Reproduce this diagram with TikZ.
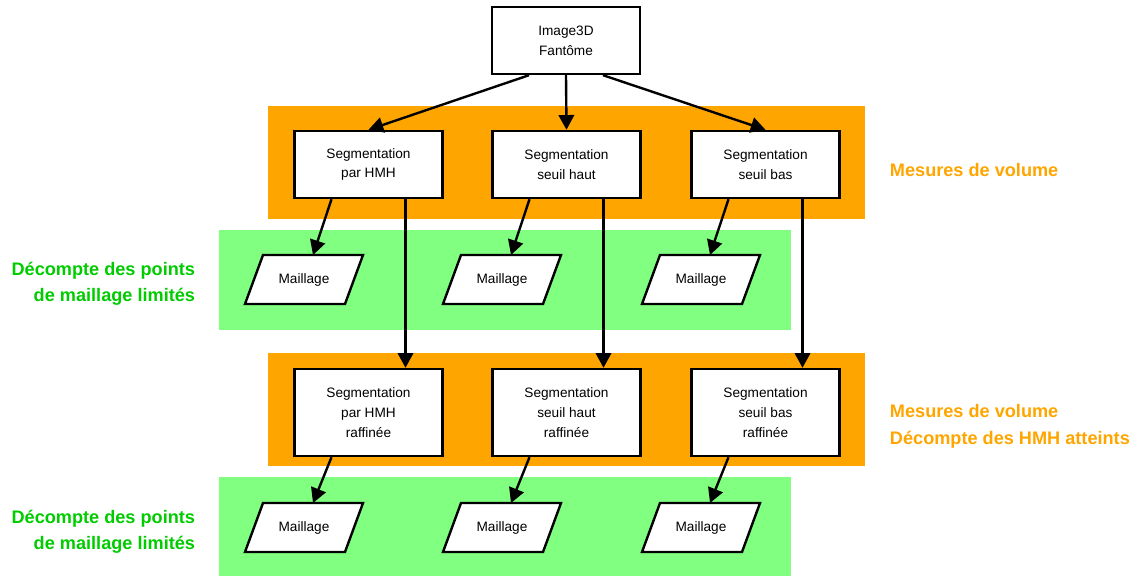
\documentclass[tikz,border=0pt]{standalone}
\usepackage{fontspec}
\setmainfont{Liberation Sans}
\usetikzlibrary{calc, arrows.meta}
\definecolor{bandorange}{HTML}{FFA500}
\definecolor{bandgreen}{HTML}{80FF80}
\definecolor{labelgreen}{HTML}{00CC00}
\tikzset{
	segbox/.style={draw, line width=1.7pt, fill=white, minimum width=3.7cm,
	  minimum height=1.675cm, align=center, font=\fontsize{9.7}{14}\selectfont}
}
\tikzset{
	orangetext/.style={font=\bfseries\fontsize{12.9}{19}\selectfont, text=bandorange, align=left}
}
\tikzset{
	greentext/.style={font=\bfseries\fontsize{12.9}{18.4}\selectfont, text=labelgreen, align=right}
}
\tikzset{
	flow/.style={line width=1.7pt, -{Triangle[length=10.5pt,width=11pt]}}
}
\newcommand{\maillage}[2]{%
  \draw[line width=1.7pt, fill=white] ($(#2)+(-41,-24.5)$) -- ++(100,0) -- ++(-18,49) -- ++(-100,0) -- cycle;
  \node[font=\fontsize{9.7}{14}\selectfont] (#1) at (#2) {Maillage};
  \coordinate (#1-top) at ($(#2)+(9,-24.5)$);
}

\begin{document}
\begin{tikzpicture}[x=0.025cm, y=-0.025cm]
      \useasboundingbox (0,0) rectangle (1143,576);
      % bands
      \fill[bandorange] (268,106) rectangle (865,219);
      \fill[bandgreen] (219,230) rectangle (791,330);
      \fill[bandorange] (268,353) rectangle (865,466);
      \fill[bandgreen] (219,477) rectangle (791,576);
      \node[segbox] (img) at (566,40.5) {Image3D\\Fantôme};
      \foreach \i/\x/\t in {1/368.5/par HMH, 2/566.5/seuil haut, 3/765.5/seuil bas} {
        \node[segbox] (s\i) at (\x,164.5) {Segmentation\\\t};
        \node[segbox, minimum height=2.175cm] (r\i) at (\x,412.5) {Segmentation\\\t\\raffinée};
        \maillage{ma\i}{\x-64.5,279.5}
        \maillage{mb\i}{\x-64.5,527.5}
        \draw[flow] ($(s\i.south)+(-37,0)$) -- (ma\i-top);
        \draw[flow] ($(r\i.south)+(-37,0)$) -- (mb\i-top);
        \draw[flow] ($(s\i.south)+(37,0)$) -- ($(r\i.north)+(37,0)$);
      }
      \draw[flow] ($(img.south)+(-37,0)$) -- (s1.north);
      \draw[flow] (img.south) -- (s2.north);
      \draw[flow] ($(img.south)+(37,0)$) -- (s3.north);
      % labels
      \node[orangetext, anchor=west] (vol1) at (885,170) {Mesures de volume};
      \node[orangetext, anchor=west] (vol2) at (885,426.5) {Mesures de volume\\Décompte des HMH atteints};
      \node[greentext, anchor=east] (pts1) at (200,284) {Décompte des points\\de maillage limités};
      \node[greentext, anchor=east] (pts2) at (200,532) {Décompte des points\\de maillage limités};
\end{tikzpicture}
\end{document}
